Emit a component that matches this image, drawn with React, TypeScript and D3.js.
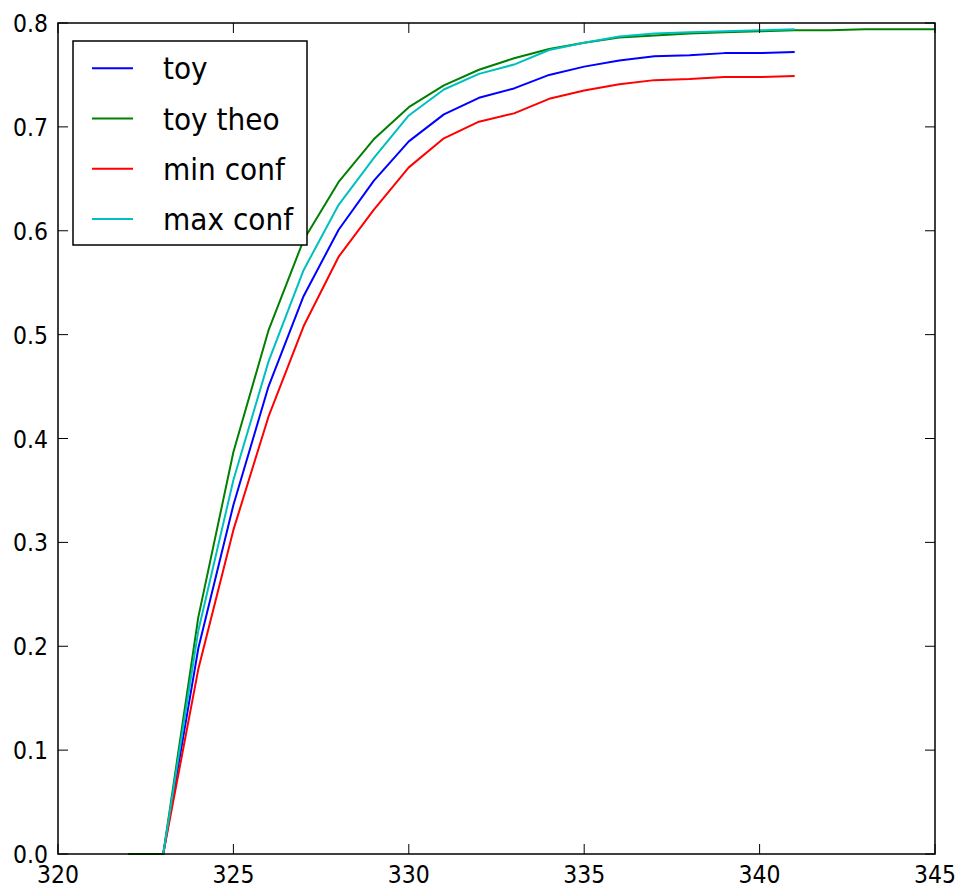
import React from "react";
import * as d3 from "d3";

// x positions
const xTheo = [322, 323, 324, 325, 326, 327, 328, 329, 330, 331, 332, 333, 334, 335, 336, 337, 338, 339, 340, 341, 342, 343, 344, 345];
const xConf = [323, 324, 325, 326, 327, 328, 329, 330, 331, 332, 333, 334, 335, 336, 337, 338, 339, 340, 341];

// series
const toy = [0, 0.198, 0.336, 0.45, 0.537, 0.601, 0.648, 0.686, 0.712, 0.728, 0.737, 0.75, 0.758, 0.764, 0.768, 0.769, 0.771, 0.771, 0.772];
const toyTheo = [0, 0, 0.228, 0.387, 0.504, 0.591, 0.647, 0.688, 0.719, 0.74, 0.755, 0.766, 0.775, 0.781, 0.786, 0.788, 0.79, 0.791, 0.792, 0.793, 0.793, 0.794, 0.794, 0.794];
const minConf = [0, 0.178, 0.312, 0.421, 0.508, 0.575, 0.62, 0.661, 0.689, 0.705, 0.713, 0.727, 0.735, 0.741, 0.745, 0.746, 0.748, 0.748, 0.749];
const maxConf = [0, 0.215, 0.36, 0.474, 0.562, 0.625, 0.67, 0.711, 0.736, 0.751, 0.76, 0.774, 0.781, 0.787, 0.79, 0.791, 0.792, 0.793, 0.794];

const xTicks = [320, 325, 330, 335, 340, 345];
const yTicks = [0, 0.1, 0.2, 0.3, 0.4, 0.5, 0.6, 0.7, 0.8];

const series = [
  { name: "toy", xs: xConf, ys: toy, color: "#0000ff" },
  { name: "toy theo", xs: xTheo, ys: toyTheo, color: "#008000" },
  { name: "min conf", xs: xConf, ys: minConf, color: "#ff0000" },
  { name: "max conf", xs: xConf, ys: maxConf, color: "#00bfbf" },
];

const W = 957, H = 887;
const left = 58, right = 935, top = 23, bottom = 854;
const font = "DejaVu Sans, sans-serif";

// the picture's text is a little stretched vertically
const at = (px: number, py: number, sy: number) => `translate(${px},${py}) scale(1,${sy})`;

export default function App() {
  const x = d3.scaleLinear().domain([320, 345]).range([left, right]);
  const y = d3.scaleLinear().domain([0, 0.8]).range([bottom, top]);
  const tick = 10;

  return (
    <svg width={W} height={H} style={{ position: "absolute", left: 0, top: 0, background: "#fff" }}>
      {series.map(s => {
        const line = d3.line<number>()
          .x((d, i) => x(s.xs[i]))
          .y(d => y(d));
        return (
          <path key={s.name} d={line(s.ys) || ""} fill="none" stroke={s.color} strokeWidth={2} strokeLinejoin="round" />
        );
      })}

      <rect x={left} y={top} width={right - left} height={bottom - top} fill="none" stroke="#000" strokeWidth={1.5} />

      {xTicks.map(t => (
        <g key={"x" + t}>
          <line x1={x(t)} x2={x(t)} y1={bottom} y2={bottom - tick} stroke="#000" strokeWidth={1} />
          <line x1={x(t)} x2={x(t)} y1={top} y2={top + tick} stroke="#000" strokeWidth={1} />
          <text transform={at(x(t), 883, 1.15)} textAnchor="middle" fontFamily={font} fontSize={22} fill="#000">{t}</text>
        </g>
      ))}
      {yTicks.map(t => (
        <g key={"y" + t}>
          <line x1={left} x2={left + tick} y1={y(t)} y2={y(t)} stroke="#000" strokeWidth={1} />
          <line x1={right} x2={right - tick} y1={y(t)} y2={y(t)} stroke="#000" strokeWidth={1} />
          <text transform={at(48, y(t) + 9, 1.15)} textAnchor="end" fontFamily={font} fontSize={22} fill="#000">{t.toFixed(1)}</text>
        </g>
      ))}

      <g>
        <rect x={73} y={41} width={234} height={204} fill="#fff" stroke="#000" strokeWidth={1.5} />
        {series.map((s, i) => {
          const ry = 68.3 + i * 50.2;
          return (
            <g key={"l" + s.name}>
              <line x1={92} x2={133} y1={ry} y2={ry} stroke={s.color} strokeWidth={2} />
              <text transform={at(163, ry + 11, 1.1)} fontFamily={font} fontSize={28} fill="#000">{s.name}</text>
            </g>
          );
        })}
      </g>
    </svg>
  );
}
